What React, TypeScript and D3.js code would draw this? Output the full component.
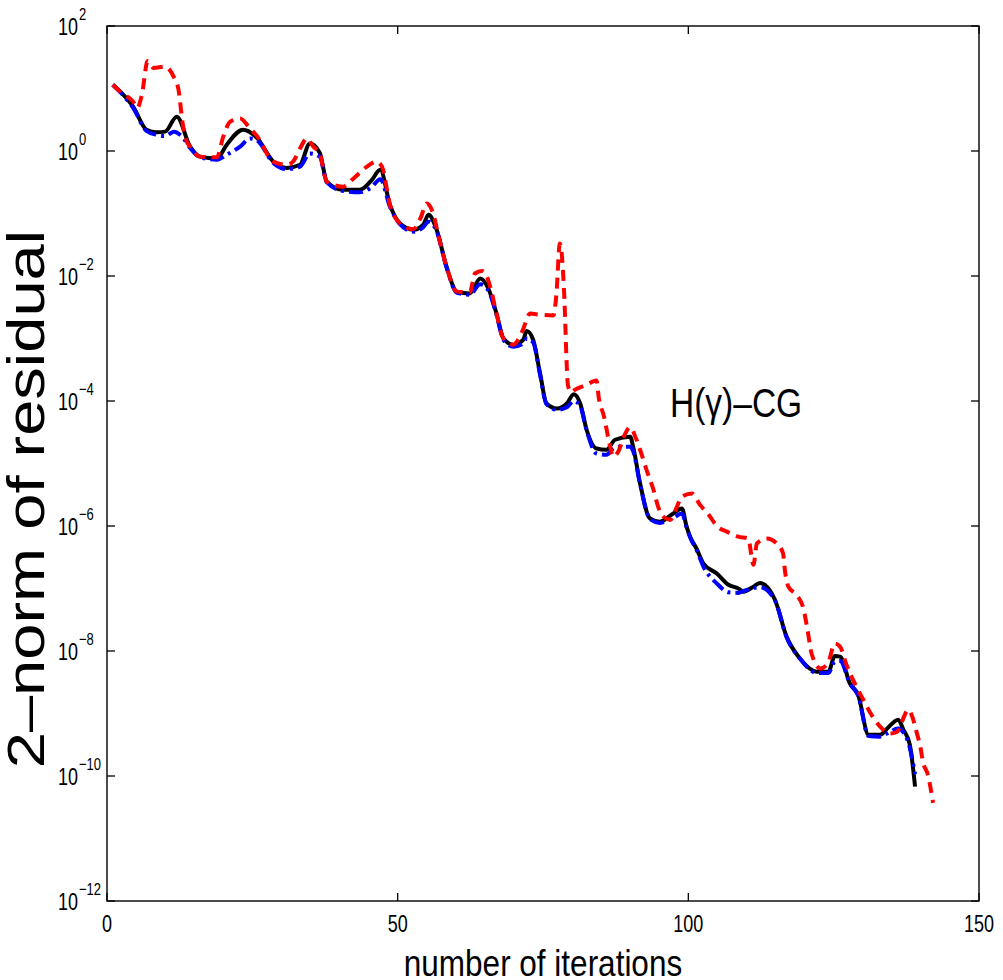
import React from 'react';
import * as d3 from 'd3';

// readings from the picture: [iteration, log10 of residual norm]
const blackSeries: [number, number][] = [
  [1, 1.06], [2.5, 0.93], [4.5, 0.71], [6.8, 0.34], [8.5, 0.30], [10, 0.31], [12, 0.55],
  [14.3, 0.07], [16, -0.09], [18.9, -0.12], [20.6, 0.10], [23.4, 0.34], [25.8, 0.21],
  [28.6, -0.17], [30.9, -0.27], [33.2, -0.22], [34.9, 0.12], [36.6, -0.03], [37.8, -0.49],
  [40.6, -0.62], [43.5, -0.62], [45.5, -0.47], [47, -0.30], [48.7, -0.87], [50.4, -1.16],
  [52.7, -1.26], [54.4, -1.18], [55.3, -1.02], [56.7, -1.26], [58.4, -1.85], [60.2, -2.25],
  [62.4, -2.28], [64.2, -2.04], [65.6, -2.20], [67, -2.60], [68.2, -3.00], [69.9, -3.10],
  [71.6, -3.02], [72.2, -2.88], [73.3, -3.02], [74.5, -3.56], [75.6, -4.04], [77.4, -4.12],
  [79.1, -4.04], [80.3, -3.89], [81.4, -4.04], [82.5, -4.46], [84.2, -4.76], [85.9, -4.78],
  [87.4, -4.62], [90, -4.57], [90.5, -4.73], [91.7, -5.32], [93.4, -5.88], [95.1, -5.93],
  [97.4, -5.80], [98.9, -5.72], [99.7, -6.01], [100.3, -6.17], [101.4, -6.36], [102.6, -6.60],
  [104.9, -6.76], [106.9, -6.94], [108.6, -7.00], [109.5, -7.05], [111.2, -6.97], [112.3, -6.91],
  [114.9, -7.18], [116.9, -7.77], [119.2, -8.12], [122.1, -8.33], [124.1, -8.33], [125.2, -8.08],
  [126.1, -8.09], [127.8, -8.52], [129.2, -8.70], [131, -9.34], [133, -9.34], [134.2, -9.24],
  [136.1, -9.10], [137, -9.26], [138.1, -9.50], [139, -10.17],
];

const blueSeries: [number, number][] = [
  [1, 1.06], [2.5, 0.92], [4.5, 0.69], [6.8, 0.32], [8.5, 0.26], [10, 0.24], [11.5, 0.31],
  [13, 0.22], [14.3, 0.05], [16, -0.10], [18.9, -0.14], [20.6, -0.06], [22.9, 0.07], [24.6, 0.20],
  [25.8, 0.17], [28.6, -0.19], [30.9, -0.29], [33.2, -0.25], [34.9, -0.04], [36.6, -0.09],
  [37.8, -0.50], [40.6, -0.64], [43.5, -0.66], [45.5, -0.58], [47, -0.45], [48.7, -0.90],
  [50.4, -1.17], [52.7, -1.29], [54.4, -1.22], [55.3, -1.13], [56.7, -1.28], [58.4, -1.86],
  [60.2, -2.27], [62.4, -2.30], [64.2, -2.13], [65.6, -2.23], [67, -2.62], [68.2, -3.02],
  [69.9, -3.13], [71.6, -3.08], [72.2, -3.00], [73.3, -3.06], [74.5, -3.58], [75.6, -4.05],
  [77.4, -4.14], [79.1, -4.10], [80.3, -4.00], [81.4, -4.08], [82.5, -4.47], [84.2, -4.84],
  [85.9, -4.86], [87.4, -4.74], [90, -4.73], [90.5, -4.80], [91.7, -5.33], [93.4, -5.89],
  [95.1, -5.95], [97.4, -5.87], [98.9, -5.80], [99.7, -6.02], [100.3, -6.18], [101.4, -6.38],
  [102.6, -6.65], [104.9, -6.92], [106.9, -7.06], [108.6, -7.07], [109.5, -7.04], [111.2, -6.99],
  [112.3, -6.98], [114.9, -7.19], [116.9, -7.78], [119.2, -8.12], [122.1, -8.35], [124.1, -8.35],
  [125.2, -8.17], [126.1, -8.16], [127.8, -8.52], [129.2, -8.71], [131, -9.36], [133, -9.37],
  [134.2, -9.32], [136.1, -9.24], [137, -9.30], [138.1, -9.55], [139, -9.97],
];

const redSeries: [number, number][] = [
  [1, 1.06], [2.5, 0.93], [4.5, 0.79], [5.2, 0.69], [6, 0.90], [7, 1.44], [8, 1.33], [10, 1.35],
  [11.4, 1.20], [12.3, 0.98], [13, 0.45], [13.6, 0.18], [14.3, 0.07], [16, -0.09], [18.9, -0.10],
  [20, 0.23], [21.2, 0.47], [22.9, 0.52], [24.6, 0.36], [25.8, 0.24], [28.6, -0.17], [30.9, -0.22],
  [32, -0.17], [33.2, 0.04], [34.4, 0.20], [35.5, 0.07], [36.6, -0.04], [37.8, -0.49], [40.6, -0.57],
  [42.4, -0.44], [44.7, -0.25], [46.4, -0.17], [47.3, -0.25], [48.7, -0.87], [50.4, -1.16],
  [52.7, -1.25], [53.9, -1.08], [55, -0.84], [56.1, -1.00], [57, -1.35], [58.4, -1.85], [60.2, -2.25],
  [62.4, -2.26], [63.3, -1.96], [64.5, -1.92], [65.3, -2.00], [66, -2.20], [67, -2.60], [68.2, -3.00],
  [69.9, -3.10], [70.5, -3.05], [71.5, -2.87], [72.8, -2.60], [74.5, -2.62], [76.8, -2.63],
  [77.3, -2.30], [77.9, -1.48], [78.2, -1.62], [78.6, -2.20], [79.3, -3.75], [79.8, -3.86],
  [80.5, -3.82], [82.5, -3.74], [84.2, -3.67], [84.6, -3.95], [85.5, -4.25], [86.3, -4.62],
  [87.1, -4.89], [88, -4.80], [89, -4.55], [90, -4.42], [91, -4.60], [91.7, -4.78], [92.8, -5.10],
  [94, -5.42], [94.8, -5.69], [95.7, -5.85], [96.9, -5.90], [98, -5.70], [98.9, -5.53],
  [100.6, -5.48], [102, -5.66], [103.5, -5.82], [105, -6.01], [106.6, -6.09], [108.6, -6.17],
  [110.3, -6.20], [111.2, -6.62], [111.8, -6.28], [113.5, -6.20], [115.2, -6.28], [116.3, -6.44],
  [116.6, -6.70], [117.2, -6.97], [118.6, -7.10], [119.8, -7.32], [120.5, -7.66], [121.2, -8.04],
  [122.7, -8.28], [124, -8.20], [125.2, -7.88], [126.1, -7.93], [127.2, -8.22], [128.9, -8.57],
  [130.1, -8.78], [131.5, -9.02], [133, -9.21], [134.7, -9.32], [135.8, -9.30], [137.9, -8.94],
  [138.4, -9.02], [139.3, -9.31], [139.9, -9.53], [140.4, -9.79], [141.2, -9.98], [142.1, -10.43],
];

const xTicks = [0, 50, 100, 150];
const yTickExps = [2, 0, -2, -4, -6, -8, -10, -12];

const FONT = '"Liberation Sans", Arial, Helvetica, sans-serif';

export default function App() {
  const W = 1003, H = 980;
  const left = 107, right = 979, top = 26, bottom = 901;

  const x = d3.scaleLinear().domain([0, 150]).range([left, right]);
  const y = d3.scaleLog().domain([1e-12, 1e2]).range([bottom, top]);

  const line = d3.line<[number, number]>()
    .x(d => x(d[0]))
    .y(d => y(Math.pow(10, d[1])))
    .curve(d3.curveMonotoneX);

  const tickLen = 8;

  return (
    <svg width={W} height={H} style={{ position: 'absolute', left: 0, top: 0, background: '#fff' }}
      fontFamily={FONT}>
      <rect x={0} y={0} width={W} height={H} fill="#fff" />

      {/* curves */}
      <path d={line(blackSeries) || ''} fill="none" stroke="#000" strokeWidth={4} strokeLinejoin="round" />
      <path d={line(blueSeries) || ''} fill="none" stroke="#0000ff" strokeWidth={4} strokeDasharray="14,5,3,5" />
      <path d={line(redSeries) || ''} fill="none" stroke="#ff0000" strokeWidth={4} strokeDasharray="11,7" />

      {/* axes box */}
      <rect x={left} y={top} width={right - left} height={bottom - top} fill="none" stroke="#000" strokeWidth={1.4} />

      {xTicks.map(t => (
        <g key={'x' + t}>
          <line x1={x(t)} x2={x(t)} y1={bottom} y2={bottom - tickLen} stroke="#000" strokeWidth={1.3} />
          <line x1={x(t)} x2={x(t)} y1={top} y2={top + tickLen} stroke="#000" strokeWidth={1.3} />
          <text transform={`translate(${x(t)},${bottom + 31}) scale(1,1.3)`} textAnchor="middle" fontSize={18}>
            {t}
          </text>
        </g>
      ))}

      {yTickExps.map(e => {
        const yy = y(Math.pow(10, e));
        return (
          <g key={'y' + e}>
            <line x1={left} x2={left + tickLen} y1={yy} y2={yy} stroke="#000" strokeWidth={1.3} />
            <line x1={right} x2={right - tickLen} y1={yy} y2={yy} stroke="#000" strokeWidth={1.3} />
            <text transform={`translate(58,${yy + 9}) scale(1,1.3)`} fontSize={18}>
              10
              <tspan fontSize={13} dx={1} dy={-11.5}>{e < 0 ? '\u2212' + Math.abs(e) : String(e)}</tspan>
            </text>
          </g>
        );
      })}

      {/* labels */}
      <text transform={`translate(${(left + right) / 2},976) scale(1,1.2)`} textAnchor="middle" fontSize={31.5}>
        number of iterations
      </text>
      <text transform={`translate(44,499) rotate(-90) scale(1.25,1)`} textAnchor="middle" fontSize={52}>
        2–norm of residual
      </text>
      <text transform={`translate(670,417) scale(1,1.2)`} fontSize={33.5}>
        H(γ)–CG
      </text>
    </svg>
  );
}
